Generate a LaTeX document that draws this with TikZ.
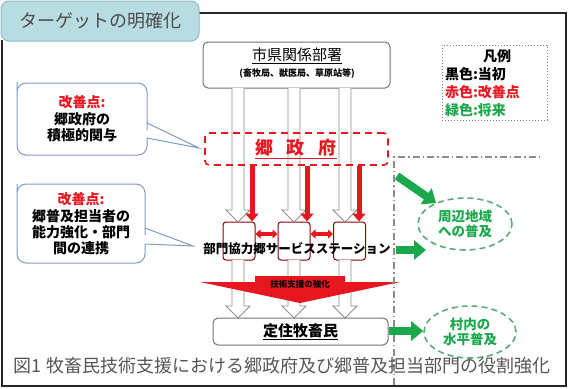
\documentclass[tikz,border=0pt]{standalone}
\usepackage{fontspec}
\setmainfont{Noto Sans CJK JP}
\usetikzlibrary{arrows.meta,calc,shapes.geometric}
\definecolor{tabfill}{HTML}{B7DCE1}
\definecolor{tabdraw}{HTML}{8DBCC4}
\definecolor{myred}{HTML}{E8161E}
\definecolor{mygreen}{HTML}{1BA84B}
\definecolor{calldraw}{HTML}{7E9BC2}
\definecolor{capgray}{HTML}{555555}
\newcommand{\myfs}[1]{\fontsize{#1}{#1}\selectfont}
\newcommand{\hollowarr}[3]{\draw[hollow] (#1-6,#2) -- (#1-6,#3-12) -- (#1-12,#3-12) -- (#1,#3) -- (#1+12,#3-12) -- (#1+6,#3-12) -- (#1+6,#2);}
\tikzset{
  txt/.style={inner sep=0pt, outer sep=0pt},
  frame/.style={draw=black!85, line width=1.4pt},
  tabbox/.style={draw=tabdraw, fill=tabfill, rounded corners=8pt, line width=1pt, inner sep=0pt},
  whitebox/.style={draw=black!55, fill=white, rounded corners=5pt, line width=1pt, inner sep=0pt},
  callout/.style={draw=calldraw, fill=white, line width=1pt},
  govbox/.style={draw=myred, dash pattern=on 7pt off 5pt, rounded corners=4pt, line width=1.6pt, inner sep=0pt},
  stbox/.style={draw=red!55!black, rounded corners=3pt, line width=1pt, inner sep=0pt},
  hollow/.style={draw=black!45, fill=white, line width=0.9pt, line join=miter},
  redarr/.style={draw=myred, line width=5pt, -{Triangle[width=13pt,length=8pt]}},
  redbi/.style={draw=myred, line width=4pt, {Triangle[width=9pt,length=5pt]}-{Triangle[width=9pt,length=5pt]}},
  greenarr/.style={draw=mygreen, line width=8pt, -{Triangle[width=19pt,length=12pt]}},
  gellipse/.style={draw=mygreen!80!black!70, dash pattern=on 6pt off 4pt, line width=1.6pt, ellipse, inner sep=0pt},
  dashdot/.style={draw=black!45, line width=1.3pt, dash pattern=on 7pt off 3pt on 1.5pt off 3pt},
  legend/.style={draw=black!50, dotted, line width=1pt, inner sep=0pt},
}
\begin{document}
\begin{tikzpicture}[x=1pt,y=-1pt]
\useasboundingbox (0,0) rectangle (569,388);
% outer frame and tab
\draw[frame] (199,13) -- (566,13) -- (566,386) -- (2,386) -- (2,40);
\node[tabbox, minimum width=198pt, minimum height=40pt] (tab) at (100,21) {};
\node[txt, text=black!70] (tabtxt) at (tab.center) {\myfs{18}ターゲットの明確化};

% top box
\node[whitebox, minimum width=187pt, minimum height=46pt] (city) at (296.5,65) {};
\node[txt] (citytxt) at (297,56) {\myfs{15}\underline{市県関係部署}};
\node[txt] (citysub) at (297,74) {\myfs{9}\bfseries (畜牧局、獣医局、草原站等)};

% legend
\node[legend, minimum width=105pt, minimum height=75pt] (leg) at (494.5,82.5) {};
\node[txt, font=\bfseries] (leg0) at (497,56) {\myfs{14}凡例};
\node[txt, font=\bfseries, anchor=west] (leg1) at (445,74) {\myfs{14}黒色:当初};
\node[txt, font=\bfseries, anchor=west, text=myred] (leg2) at (445,92) {\myfs{14}赤色:改善点};
\node[txt, font=\bfseries, anchor=west, text=mygreen] (leg3) at (445,110) {\myfs{14}緑色:将来};

% callouts
\draw[callout] (17,91) [rounded corners=9pt] -- (17,83) -- (147,83) -- (147,121) [sharp corners] -- (147,123) -- (199,148) -- (147,138) [rounded corners=9pt] -- (147,155) -- (17,155) -- cycle;
\node[txt, align=center, font=\bfseries] (c1) at (82,119) {\myfs{14}\textcolor{myred}{改善点:}\\[2pt]\myfs{14}郷政府の\\[2pt]\myfs{14}積極的関与};
\draw[callout] (17,193) [rounded corners=9pt] -- (17,184) -- (145,184) -- (145,226) [sharp corners] -- (145,228) -- (193,246) -- (145,244) [rounded corners=9pt] -- (145,263) -- (17,263) -- cycle;
\node[txt, align=center, font=\bfseries] (c2) at (81,224) {\myfs{14}\textcolor{myred}{改善点:}\\[2pt]\myfs{14}郷普及担当者の\\[2pt]\myfs{14}能力強化・部門\\[2pt]\myfs{14}間の連携};

% station boxes
\node[stbox, minimum width=32pt, minimum height=38pt] (s1) at (239,241) {};
\node[stbox, minimum width=32pt, minimum height=38pt] (s2) at (294,241) {};
\node[stbox, minimum width=32pt, minimum height=38pt] (s3) at (349.5,241) {};

% hollow arrows (upper and lower)
\hollowarr{238}{88}{222}
\hollowarr{294}{88}{222}
\hollowarr{345}{88}{222}
\hollowarr{238}{260}{318}
\hollowarr{294}{260}{318}
\hollowarr{345}{260}{318}

% gov box
\node[govbox, minimum width=183pt, minimum height=32pt] (gov) at (296.5,149) {};
\node[txt, text=myred, font=\bfseries] (govtxt) at (296,149) {\myfs{18}\underline{郷\hspace{14pt}政\hspace{14pt}府}};

% red arrows
\draw[redarr] (gov.south -| 252,0) -- (s1.north -| 252,0);
\draw[redarr] (gov.south -| 307,0) -- (s2.north -| 307,0);
\draw[redarr] (gov.south -| 359,0) -- (s3.north -| 359,0);
\draw[redbi] (s1.east |- 0,234) -- (s2.west |- 0,234);
\draw[redbi] (s2.east |- 0,234) -- (s3.west |- 0,234);

% station text
\node[txt, font=\bfseries] (sttxt) at (297,249) {\myfs{12.5}部門協力郷サービスステーション};

% red chevron
\fill[myred] (200,282) -- (255,282) -- (255,276) -- (345,276) -- (345,282) -- (400,282) -- (300,303) -- cycle;
\node[txt, font=\bfseries] (chev) at (300,284) {\myfs{8.5}技術支援の強化};

% bottom box
\node[whitebox, minimum width=175pt, minimum height=27pt] (herd) at (300.5,331.5) {};
\node[txt, font=\bfseries] (herdtxt) at (herd.center) {\myfs{15}\underline{定住牧畜民}};

% dash-dot lines
\coordinate (dd1) at (394,385);
\coordinate (dd2) at (394,157);
\coordinate (dd3) at (540,157);
\draw[dashdot] (dd1) -- (dd2) -- (dd3);

% ellipses
\node[gellipse, minimum width=94pt, minimum height=52pt] (e1) at (465,224) {};
\node[txt, align=center, text=mygreen, font=\bfseries] (e1t) at (e1.center) {\myfs{13.5}周辺地域\\[1pt]\myfs{13.5}への普及};
\node[gellipse, minimum width=92pt, minimum height=52pt] (e2) at (470,332) {};
\node[txt, align=center, text=mygreen, font=\bfseries] (e2t) at (e2.center) {\myfs{13.5}村内の\\[1pt]\myfs{13.5}水平普及};

% green arrows
\coordinate (g1s) at (397,176);
\draw[greenarr] (g1s) -- (436,203);
\coordinate (g2s) at (396,250);
\draw[greenarr] (g2s) -- (426,250);
\draw[greenarr] (herd.east |- 0,331) -- (e2.west |- 0,331);

% caption
\node[txt, text=capgray] (cap) at (282,366) {\myfs{18}図1 牧畜民技術支援における郷政府及び郷普及担当部門の役割強化};
\end{tikzpicture}
\end{document}
